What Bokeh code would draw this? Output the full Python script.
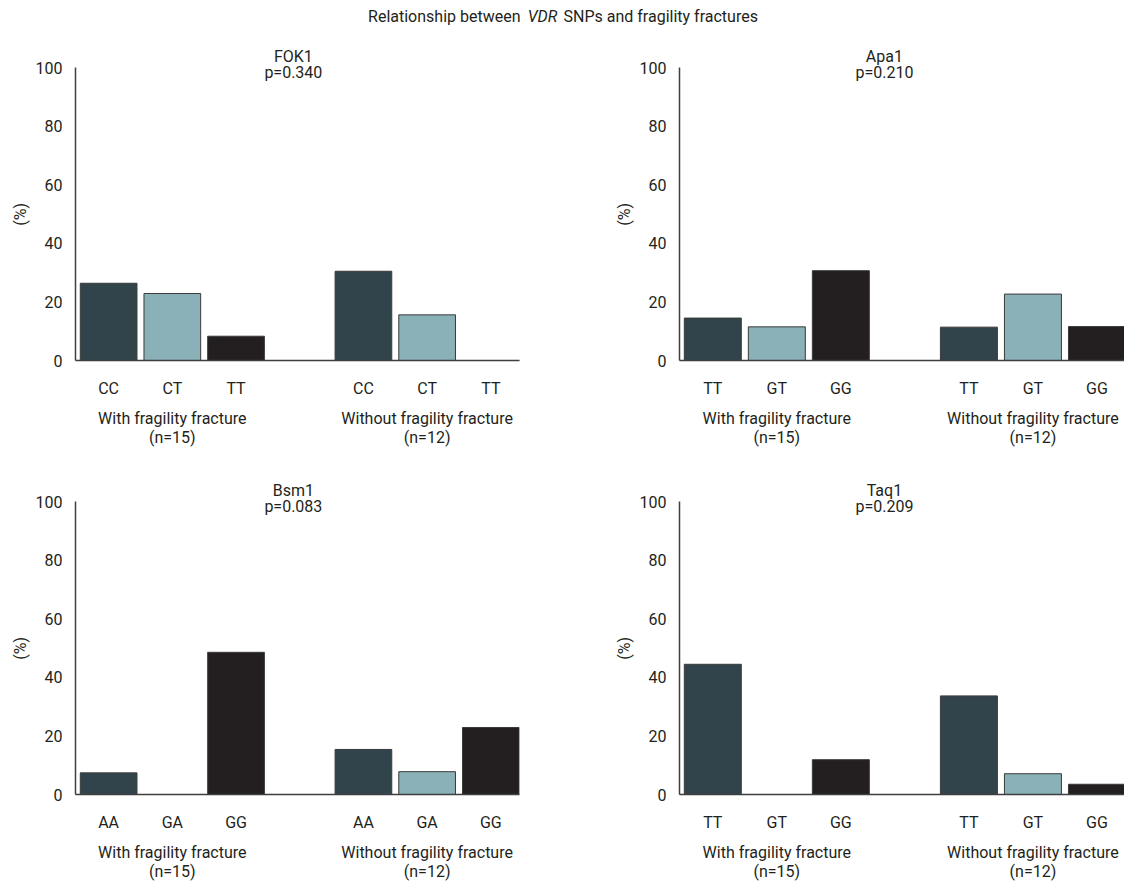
from bokeh.plotting import figure
from bokeh.models import Range1d, FixedTicker, LinearAxis, Label, ColumnDataSource
from bokeh.layouts import column, row
from bokeh.embed import file_html
from bokeh.resources import INLINE

# ---------------- data ----------------
fok1_genotypes = ["CC", "CT", "TT"]
fok1_with = [26.4, 22.9, 8.3]
fok1_without = [30.5, 15.6, 0.0]

apa1_genotypes = ["TT", "GT", "GG"]
apa1_with = [14.5, 11.5, 30.7]
apa1_without = [11.4, 22.7, 11.6]

bsm1_genotypes = ["AA", "GA", "GG"]
bsm1_with = [7.4, 0.0, 48.6]
bsm1_without = [15.4, 7.8, 22.9]

taq1_genotypes = ["TT", "GT", "GG"]
taq1_with = [44.5, 0.0, 11.9]
taq1_without = [33.7, 7.1, 3.5]

snp_names = ["FOK1", "Apa1", "Bsm1", "Taq1"]
p_values = ["p=0.340", "p=0.210", "p=0.083", "p=0.209"]
group_labels = ["With fragility fracture\n(n=15)", "Without fragility fracture\n(n=12)"]
y_ticks = [0, 20, 40, 60, 80, 100]
y_label = "(%)"

# ---------------- style ----------------
FONT = "Roboto"
TXT = "#231f20"
AXC = "#3f3f3f"
bar_colors = ["#31444b", "#8ab1b7", "#231f20"]
FS = "16px"
PAD = "\u00a0" * 6   # keeps the rotated axis title centred on the 0-100 span


def build(name, pval, genos, vals_with, vals_without, col_left, top_row):
    if col_left:
        width, mbl, mbr, x_end, title_x = 600, 75, 81, 6.45, 2.9
    else:
        width, mbl, mbr, x_end, title_x = 524, 79, 0, 6.43, 2.68
    height = 434 if top_row else 406
    mbb = 118 if top_row else 90
    p = figure(width=width, height=height, x_range=Range1d(-0.52, x_end), y_range=Range1d(0, 108),
               output_backend="svg", toolbar_location=None, x_axis_type=None, y_axis_type=None,
               min_border_left=mbl, min_border_right=mbr, min_border_top=0, min_border_bottom=mbb)
    p.outline_line_color = None
    p.background_fill_color = "white"
    p.border_fill_color = "white"

    xs, tops, cols = [], [], []
    for g, vals in enumerate([vals_with, vals_without]):
        for i, v in enumerate(vals):
            xs.append(g * 4 + i)
            tops.append(v)
            cols.append(bar_colors[i])
    src = ColumnDataSource(dict(x=xs, top=tops, color=cols))
    p.vbar(x="x", top="top", bottom=0, width=0.89, source=src, fill_color="color",
           line_color="#3a3a3a", line_width=1)

    yax = LinearAxis(ticker=FixedTicker(ticks=y_ticks), bounds=(0, 100))
    yax.axis_label = y_label + PAD
    yax.axis_label_text_font_style = "normal"
    yax.axis_label_text_font = FONT
    yax.axis_label_text_font_size = FS
    yax.axis_label_text_color = TXT
    yax.axis_label_standoff = 3
    yax.major_label_text_font = FONT
    yax.major_label_text_font_size = FS
    yax.major_label_text_color = TXT
    yax.major_label_standoff = 7
    yax.major_tick_line_color = None
    yax.minor_tick_line_color = None
    yax.axis_line_color = AXC
    yax.axis_line_width = 1.5
    p.add_layout(yax, "left")

    tick_pos = [g * 4 + i for g in range(2) for i in range(len(genos))]
    xax = LinearAxis(ticker=FixedTicker(ticks=tick_pos),
                     major_label_overrides={t: genos[k % 3] for k, t in enumerate(tick_pos)})
    xax.major_label_text_font = FONT
    xax.major_label_text_font_size = FS
    xax.major_label_text_color = TXT
    xax.major_label_standoff = 12
    xax.major_tick_line_color = None
    xax.minor_tick_line_color = None
    xax.axis_line_color = AXC
    xax.axis_line_width = 1.5
    p.add_layout(xax, "below")

    gax = LinearAxis(ticker=FixedTicker(ticks=[1, 5]),
                     major_label_overrides={1: group_labels[0], 5: group_labels[1]})
    gax.major_label_text_font = FONT
    gax.major_label_text_font_size = FS
    gax.major_label_text_color = TXT
    gax.major_label_text_line_height = 1.03
    gax.major_label_standoff = 2
    gax.major_tick_line_color = None
    gax.minor_tick_line_color = None
    gax.axis_line_color = None
    p.add_layout(gax, "below")

    for txt, yv in [(name, 103.8), (pval, 98.3)]:
        p.add_layout(Label(x=title_x, y=yv, text=txt, text_align="center", text_baseline="middle",
                           text_font=FONT, text_font_size=FS, text_color=TXT))
    return p


p1 = build(snp_names[0], p_values[0], fok1_genotypes, fok1_with, fok1_without, True, True)
p2 = build(snp_names[1], p_values[1], apa1_genotypes, apa1_with, apa1_without, False, True)
p3 = build(snp_names[2], p_values[2], bsm1_genotypes, bsm1_with, bsm1_without, True, False)
p4 = build(snp_names[3], p_values[3], taq1_genotypes, taq1_with, taq1_without, False, False)

# title figure
t = figure(width=1124, height=44, x_range=Range1d(0, 1124), y_range=Range1d(0, 44),
           output_backend="svg", toolbar_location=None, x_axis_type=None, y_axis_type=None,
           min_border=0)
t.outline_line_color = None
t.add_layout(Label(x=520, y=28, text="Relationship between", text_align="right", text_baseline="middle",
                   text_font=FONT, text_font_size=FS, text_color=TXT))
t.add_layout(Label(x=542, y=28, text="VDR", text_align="center", text_baseline="middle",
                   text_font=FONT, text_font_size=FS, text_font_style="italic", text_color=TXT))
t.add_layout(Label(x=563, y=28, text="SNPs and fragility fractures", text_align="left", text_baseline="middle",
                   text_font=FONT, text_font_size=FS, text_color=TXT))

layout = column(t, row(p1, p2), row(p3, p4))
open("out.html", "w").write(file_html(layout, INLINE))
